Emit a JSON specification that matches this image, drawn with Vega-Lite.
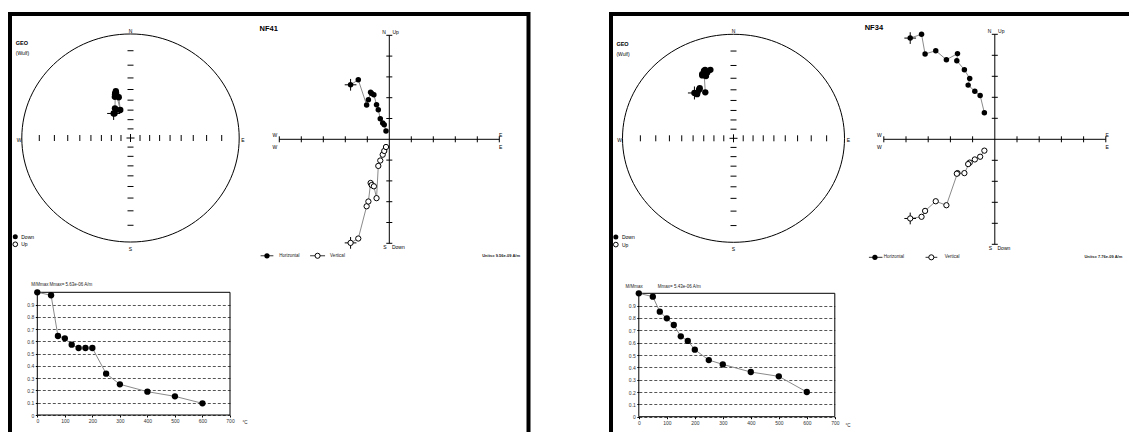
{
"$schema":"https://vega.github.io/schema/vega-lite/v6.json",
"padding":{"left":8,"top":12,"right":-7.5,"bottom":-24},
"background":"white",
"bounds":"flush",
"spacing":82,
"config":{"view":{"stroke":"black","strokeWidth":4},"font":"Liberation Sans"},
"datasets":{
"st":[{"v":-0.8391},{"v":-0.7002},{"v":-0.5774},{"v":-0.4663},{"v":-0.364},{"v":-0.2679},{"v":-0.1763},{"v":-0.0875},{"v":0.0875},{"v":0.1763},{"v":0.2679},{"v":0.364},{"v":0.4663},{"v":0.5774},{"v":0.7002},{"v":0.8391}],
"zt":[{"v":-5},{"v":-4},{"v":-3},{"v":-2},{"v":-1},{"v":1},{"v":2},{"v":3},{"v":4},{"v":5}],
"sl":[{"x":0,"y":1.03,"t":"N"},{"x":0,"y":-1.065,"t":"S"},{"x":-1.025,"y":-0.02,"t":"W"},{"x":1.035,"y":-0.02,"t":"E"}],
"sl2":[{"x":-1.055,"y":0.815,"t":"(Wulf)"},{"x":-1.005,"y":-0.95,"t":"Down"},{"x":-1.005,"y":-1.022,"t":"Up"}],
"zl":[{"x":-0.24,"y":5.14,"t":"N"},{"x":0.29,"y":5.14,"t":"Up"},{"x":-0.2,"y":-5.17,"t":"S"},{"x":0.41,"y":-5.17,"t":"Down"},{"x":-5.2,"y":0.2,"t":"W"},{"x":-5.2,"y":-0.36,"t":"W"},{"x":5.06,"y":0.2,"t":"E"},{"x":5.06,"y":-0.36,"t":"E"}],
"s41":[{"i":1,"x":-0.155,"y":0.236},{"i":2,"x":-0.134,"y":0.272},{"i":3,"x":-0.147,"y":0.236},{"i":4,"x":-0.143,"y":0.285},{"i":5,"x":-0.14,"y":0.427},{"i":6,"x":-0.128,"y":0.407},{"i":7,"x":-0.108,"y":0.392},{"i":8,"x":-0.094,"y":0.269},{"i":9,"x":-0.133,"y":0.436},{"i":10,"x":-0.144,"y":0.396},{"i":11,"x":-0.142,"y":0.42},{"i":12,"x":-0.135,"y":0.45},{"i":13,"x":-0.14,"y":0.428}],
"s34":[{"i":1,"x":-0.352,"y":0.436},{"i":2,"x":-0.31,"y":0.467},{"i":3,"x":-0.328,"y":0.424},{"i":4,"x":-0.304,"y":0.482},{"i":5,"x":-0.254,"y":0.442},{"i":6,"x":-0.266,"y":0.647},{"i":7,"x":-0.282,"y":0.616},{"i":8,"x":-0.248,"y":0.598},{"i":9,"x":-0.256,"y":0.657},{"i":10,"x":-0.281,"y":0.605},{"i":11,"x":-0.25,"y":0.636},{"i":12,"x":-0.208,"y":0.658},{"i":13,"x":-0.236,"y":0.632}],
"z41":[{"i":1,"e":-1.76,"n":2.62,"u":-4.98},{"i":2,"e":-1.41,"n":2.86,"u":-4.77},{"i":3,"e":-1.03,"n":1.65,"u":-3.22},{"i":4,"e":-0.95,"n":1.9,"u":-2.99},{"i":5,"e":-0.85,"n":2.26,"u":-2.1},{"i":6,"e":-0.8,"n":2.2,"u":-2.2},{"i":7,"e":-0.7,"n":2.14,"u":-2.26},{"i":8,"e":-0.58,"n":1.66,"u":-2.83},{"i":9,"e":-0.5,"n":1.42,"u":-1.28},{"i":10,"e":-0.41,"n":0.99,"u":-1.02},{"i":11,"e":-0.3,"n":0.78,"u":-0.74},{"i":12,"e":-0.23,"n":0.7,"u":-0.56},{"i":13,"e":-0.15,"n":0.4,"u":-0.37}],
"z34":[{"i":1,"e":-3.81,"n":4.82,"u":-3.77},{"i":2,"e":-3.3,"n":5.0,"u":-3.69},{"i":3,"e":-3.14,"n":4.06,"u":-3.41},{"i":4,"e":-2.66,"n":4.22,"u":-2.95},{"i":5,"e":-2.18,"n":3.79,"u":-3.14},{"i":6,"e":-1.68,"n":4.08,"u":-1.61},{"i":7,"e":-1.71,"n":3.74,"u":-1.64},{"i":8,"e":-1.37,"n":3.31,"u":-1.61},{"i":9,"e":-1.13,"n":2.9,"u":-1.11},{"i":10,"e":-1.2,"n":2.58,"u":-1.18},{"i":11,"e":-0.9,"n":2.29,"u":-0.96},{"i":12,"e":-0.66,"n":2.09,"u":-0.83},{"i":13,"e":-0.47,"n":1.26,"u":-0.54}],
"d41":[{"t":0,"m":1},{"t":50,"m":0.976},{"t":75,"m":0.644},{"t":100,"m":0.625},{"t":125,"m":0.573},{"t":150,"m":0.546},{"t":175,"m":0.546},{"t":200,"m":0.546},{"t":250,"m":0.337},{"t":300,"m":0.25},{"t":400,"m":0.19},{"t":500,"m":0.152},{"t":600,"m":0.095}],
"d34":[{"t":0,"m":1},{"t":50,"m":0.973},{"t":75,"m":0.851},{"t":100,"m":0.797},{"t":125,"m":0.743},{"t":150,"m":0.651},{"t":175,"m":0.614},{"t":200,"m":0.543},{"t":250,"m":0.459},{"t":300,"m":0.424},{"t":400,"m":0.362},{"t":500,"m":0.327},{"t":600,"m":0.2}],
"zg41":[{"a":-5.85,"b":-5.27,"c":-5.56,"y":-5.6,"k":"H","t":"Horizontal","tx":-5.0},{"a":-3.6,"b":-2.92,"c":-3.26,"y":-5.6,"k":"V","t":"Vertical","tx":-2.69}],
"zg34":[{"a":-5.67,"b":-5.06,"c":-5.4,"y":-5.62,"k":"H","t":"Horizontal","tx":-5.0},{"a":-3.12,"b":-2.59,"c":-2.86,"y":-5.62,"k":"V","t":"Vertical","tx":-2.26}],
"dt41":[{"x":-22,"y":1.062,"t":"M/Mmax"},{"x":44,"y":1.062,"t":"Mmax= 5.63e-06 A/m"},{"x":745,"y":-0.068,"t":"°C"}],
"dt34":[{"x":-47.5,"y":1.053,"t":"M/Mmax"},{"x":68,"y":1.053,"t":"Mmax= 5.43e-06 A/m"},{"x":738,"y":-0.073,"t":"°C"}]
},
"hconcat":[
{"width":518.5,"height":440,"resolve":{"scale":{"x":"independent","y":"independent"}},"layer":[
{"data":{"values":[{"x":0,"y":0}]},"mark":{"type":"point","shape":"M-1,0C-1,-0.5285,-0.5523,-0.957,0,-0.957C0.5523,-0.957,1,-0.5285,1,0C1,0.5285,0.5523,0.957,0,0.957C-0.5523,0.957,-1,0.5285,-1,0Z","size":47263,"filled":false,"color":"black","strokeWidth":1,"opacity":1},"encoding":{"x":{"field":"x","type":"quantitative","scale":{"domain":[-1,1],"range":[11.8,229.2],"nice":false,"zero":false},"axis":null},"y":{"field":"y","type":"quantitative","scale":{"domain":[-1,1],"range":[228,20],"nice":false,"zero":false},"axis":null}}},
{"data":{"name":"st"},"mark":{"type":"point","shape":"M0,-1L0,1","size":36,"filled":false,"color":"black","strokeWidth":1,"opacity":1},"encoding":{"x":{"field":"v","type":"quantitative","scale":{"domain":[-1,1],"range":[11.8,229.2],"nice":false,"zero":false},"axis":null},"y":{"datum":0,"type":"quantitative","scale":{"domain":[-1,1],"range":[228,20],"nice":false,"zero":false},"axis":null}}},
{"data":{"name":"st"},"mark":{"type":"point","shape":"M-1,0L1,0","size":36,"filled":false,"color":"black","strokeWidth":1,"opacity":1},"encoding":{"x":{"datum":0,"type":"quantitative","scale":{"domain":[-1,1],"range":[11.8,229.2],"nice":false,"zero":false},"axis":null},"y":{"field":"v","type":"quantitative","scale":{"domain":[-1,1],"range":[228,20],"nice":false,"zero":false},"axis":null}}},
{"data":{"values":[{"x":0,"y":0}]},"mark":{"type":"point","shape":"M-1,0L1,0M0,-1L0,1","size":64,"filled":false,"color":"black","strokeWidth":1,"opacity":1},"encoding":{"x":{"field":"x","type":"quantitative","scale":{"domain":[-1,1],"range":[11.8,229.2],"nice":false,"zero":false},"axis":null},"y":{"field":"y","type":"quantitative","scale":{"domain":[-1,1],"range":[228,20],"nice":false,"zero":false},"axis":null}}},
{"data":{"name":"sl"},"mark":{"type":"text","fontSize":5,"align":"center","baseline":"middle","color":"black"},"encoding":{"x":{"field":"x","type":"quantitative","scale":{"domain":[-1,1],"range":[11.8,229.2],"nice":false,"zero":false},"axis":null},"y":{"field":"y","type":"quantitative","scale":{"domain":[-1,1],"range":[228,20],"nice":false,"zero":false},"axis":null},"text":{"field":"t","type":"nominal"}}},
{"data":{"name":"sl2"},"mark":{"type":"text","fontSize":5,"align":"left","baseline":"middle","color":"black"},"encoding":{"x":{"field":"x","type":"quantitative","scale":{"domain":[-1,1],"range":[11.8,229.2],"nice":false,"zero":false},"axis":null},"y":{"field":"y","type":"quantitative","scale":{"domain":[-1,1],"range":[228,20],"nice":false,"zero":false},"axis":null},"text":{"field":"t","type":"nominal"}}},
{"data":{"values":[{"x":-1.055,"y":0.91,"t":"GEO"}]},"mark":{"type":"text","fontSize":5.5,"fontWeight":"bold","align":"left","baseline":"middle","color":"black"},"encoding":{"x":{"field":"x","type":"quantitative","scale":{"domain":[-1,1],"range":[11.8,229.2],"nice":false,"zero":false},"axis":null},"y":{"field":"y","type":"quantitative","scale":{"domain":[-1,1],"range":[228,20],"nice":false,"zero":false},"axis":null},"text":{"field":"t","type":"nominal"}}},
{"data":{"values":[{"x":-1.06,"y":-0.95}]},"mark":{"type":"point","shape":"circle","size":25,"filled":true,"color":"black","opacity":1},"encoding":{"x":{"field":"x","type":"quantitative","scale":{"domain":[-1,1],"range":[11.8,229.2],"nice":false,"zero":false},"axis":null},"y":{"field":"y","type":"quantitative","scale":{"domain":[-1,1],"range":[228,20],"nice":false,"zero":false},"axis":null}}},
{"data":{"values":[{"x":-1.06,"y":-1.022}]},"mark":{"type":"point","shape":"circle","size":22,"filled":true,"fill":"white","stroke":"black","strokeWidth":1,"opacity":1},"encoding":{"x":{"field":"x","type":"quantitative","scale":{"domain":[-1,1],"range":[11.8,229.2],"nice":false,"zero":false},"axis":null},"y":{"field":"y","type":"quantitative","scale":{"domain":[-1,1],"range":[228,20],"nice":false,"zero":false},"axis":null}}},
{"data":{"name":"s41"},"mark":{"type":"line","color":"#8a8a8a","strokeWidth":1},"encoding":{"x":{"field":"x","type":"quantitative","scale":{"domain":[-1,1],"range":[11.8,229.2],"nice":false,"zero":false},"axis":null},"y":{"field":"y","type":"quantitative","scale":{"domain":[-1,1],"range":[228,20],"nice":false,"zero":false},"axis":null},"order":{"field":"i","type":"quantitative"}}},
{"data":{"name":"s41"},"transform":[{"filter":"datum.i==1"}],"mark":{"type":"point","shape":"M-1,0L1,0M0,-1L0,1","size":169,"filled":false,"color":"black","strokeWidth":1,"opacity":1},"encoding":{"x":{"field":"x","type":"quantitative","scale":{"domain":[-1,1],"range":[11.8,229.2],"nice":false,"zero":false},"axis":null},"y":{"field":"y","type":"quantitative","scale":{"domain":[-1,1],"range":[228,20],"nice":false,"zero":false},"axis":null}}},
{"data":{"name":"s41"},"mark":{"type":"point","shape":"circle","size":40,"filled":true,"color":"black","opacity":1},"encoding":{"x":{"field":"x","type":"quantitative","scale":{"domain":[-1,1],"range":[11.8,229.2],"nice":false,"zero":false},"axis":null},"y":{"field":"y","type":"quantitative","scale":{"domain":[-1,1],"range":[228,20],"nice":false,"zero":false},"axis":null}}},

{"data":{"values":[{"a":-5,"b":5}]},"mark":{"type":"rule","color":"black","strokeWidth":1},"encoding":{"x":{"field":"a","type":"quantitative","scale":{"domain":[-5,5],"range":[269.3,489.3],"nice":false,"zero":false},"axis":null},"x2":{"field":"b"},"y":{"datum":0,"type":"quantitative","scale":{"domain":[-5,5],"range":[229.3,21.3],"nice":false,"zero":false},"axis":null}}},
{"data":{"values":[{"a":-5,"b":5}]},"mark":{"type":"rule","color":"black","strokeWidth":1},"encoding":{"x":{"datum":0,"type":"quantitative","scale":{"domain":[-5,5],"range":[269.3,489.3],"nice":false,"zero":false},"axis":null},"y":{"field":"a","type":"quantitative","scale":{"domain":[-5,5],"range":[229.3,21.3],"nice":false,"zero":false},"axis":null},"y2":{"field":"b"}}},
{"data":{"name":"zt"},"mark":{"type":"point","shape":"M0,-1L0,1","size":36,"filled":false,"color":"black","strokeWidth":1,"opacity":1},"encoding":{"x":{"field":"v","type":"quantitative","scale":{"domain":[-5,5],"range":[269.3,489.3],"nice":false,"zero":false},"axis":null},"y":{"datum":0,"type":"quantitative","scale":{"domain":[-5,5],"range":[229.3,21.3],"nice":false,"zero":false},"axis":null}}},
{"data":{"name":"zt"},"mark":{"type":"point","shape":"M-1,0L1,0","size":36,"filled":false,"color":"black","strokeWidth":1,"opacity":1},"encoding":{"x":{"datum":0,"type":"quantitative","scale":{"domain":[-5,5],"range":[269.3,489.3],"nice":false,"zero":false},"axis":null},"y":{"field":"v","type":"quantitative","scale":{"domain":[-5,5],"range":[229.3,21.3],"nice":false,"zero":false},"axis":null}}},
{"data":{"name":"zl"},"mark":{"type":"text","fontSize":5,"align":"center","baseline":"middle","color":"black"},"encoding":{"x":{"field":"x","type":"quantitative","scale":{"domain":[-5,5],"range":[269.3,489.3],"nice":false,"zero":false},"axis":null},"y":{"field":"y","type":"quantitative","scale":{"domain":[-5,5],"range":[229.3,21.3],"nice":false,"zero":false},"axis":null},"text":{"field":"t","type":"nominal"}}},
{"data":{"values":[{"x":-5.9,"y":5.29,"t":"NF41"}]},"mark":{"type":"text","fontSize":7.5,"fontWeight":"bold","align":"left","baseline":"middle","color":"black"},"encoding":{"x":{"field":"x","type":"quantitative","scale":{"domain":[-5,5],"range":[269.3,489.3],"nice":false,"zero":false},"axis":null},"y":{"field":"y","type":"quantitative","scale":{"domain":[-5,5],"range":[229.3,21.3],"nice":false,"zero":false},"axis":null},"text":{"field":"t","type":"nominal"}}},
{"data":{"name":"z41"},"mark":{"type":"line","color":"#8a8a8a","strokeWidth":1},"encoding":{"x":{"field":"e","type":"quantitative","scale":{"domain":[-5,5],"range":[269.3,489.3],"nice":false,"zero":false},"axis":null},"y":{"field":"n","type":"quantitative","scale":{"domain":[-5,5],"range":[229.3,21.3],"nice":false,"zero":false},"axis":null},"order":{"field":"i","type":"quantitative"}}},
{"data":{"name":"z41"},"mark":{"type":"line","color":"#8a8a8a","strokeWidth":1},"encoding":{"x":{"field":"e","type":"quantitative","scale":{"domain":[-5,5],"range":[269.3,489.3],"nice":false,"zero":false},"axis":null},"y":{"field":"u","type":"quantitative","scale":{"domain":[-5,5],"range":[229.3,21.3],"nice":false,"zero":false},"axis":null},"order":{"field":"i","type":"quantitative"}}},
{"data":{"name":"z41"},"transform":[{"filter":"datum.i==1"}],"mark":{"type":"point","shape":"M-1,0L1,0M0,-1L0,1","size":137,"filled":false,"color":"black","strokeWidth":1,"opacity":1},"encoding":{"x":{"field":"e","type":"quantitative","scale":{"domain":[-5,5],"range":[269.3,489.3],"nice":false,"zero":false},"axis":null},"y":{"field":"n","type":"quantitative","scale":{"domain":[-5,5],"range":[229.3,21.3],"nice":false,"zero":false},"axis":null}}},
{"data":{"name":"z41"},"transform":[{"filter":"datum.i==1"}],"mark":{"type":"point","shape":"M-1,0L1,0M0,-1L0,1","size":137,"filled":false,"color":"black","strokeWidth":1,"opacity":1},"encoding":{"x":{"field":"e","type":"quantitative","scale":{"domain":[-5,5],"range":[269.3,489.3],"nice":false,"zero":false},"axis":null},"y":{"field":"u","type":"quantitative","scale":{"domain":[-5,5],"range":[229.3,21.3],"nice":false,"zero":false},"axis":null}}},
{"data":{"name":"z41"},"mark":{"type":"point","shape":"circle","size":30,"filled":true,"color":"black","opacity":1},"encoding":{"x":{"field":"e","type":"quantitative","scale":{"domain":[-5,5],"range":[269.3,489.3],"nice":false,"zero":false},"axis":null},"y":{"field":"n","type":"quantitative","scale":{"domain":[-5,5],"range":[229.3,21.3],"nice":false,"zero":false},"axis":null}}},
{"data":{"name":"z41"},"mark":{"type":"point","shape":"circle","size":28,"filled":true,"fill":"white","stroke":"black","strokeWidth":1,"opacity":1},"encoding":{"x":{"field":"e","type":"quantitative","scale":{"domain":[-5,5],"range":[269.3,489.3],"nice":false,"zero":false},"axis":null},"y":{"field":"u","type":"quantitative","scale":{"domain":[-5,5],"range":[229.3,21.3],"nice":false,"zero":false},"axis":null}}},
{"data":{"name":"zg41"},"mark":{"type":"rule","color":"#333","strokeWidth":1},"encoding":{"x":{"field":"a","type":"quantitative","scale":{"domain":[-5,5],"range":[269.3,489.3],"nice":false,"zero":false},"axis":null},"x2":{"field":"b"},"y":{"field":"y","type":"quantitative","scale":{"domain":[-5,5],"range":[229.3,21.3],"nice":false,"zero":false},"axis":null}}},
{"data":{"name":"zg41"},"transform":[{"filter":"datum.k=='H'"}],"mark":{"type":"point","shape":"circle","size":28,"filled":true,"color":"black","opacity":1},"encoding":{"x":{"field":"c","type":"quantitative","scale":{"domain":[-5,5],"range":[269.3,489.3],"nice":false,"zero":false},"axis":null},"y":{"field":"y","type":"quantitative","scale":{"domain":[-5,5],"range":[229.3,21.3],"nice":false,"zero":false},"axis":null}}},
{"data":{"name":"zg41"},"transform":[{"filter":"datum.k=='V'"}],"mark":{"type":"point","shape":"circle","size":26,"filled":true,"fill":"white","stroke":"black","strokeWidth":1,"opacity":1},"encoding":{"x":{"field":"c","type":"quantitative","scale":{"domain":[-5,5],"range":[269.3,489.3],"nice":false,"zero":false},"axis":null},"y":{"field":"y","type":"quantitative","scale":{"domain":[-5,5],"range":[229.3,21.3],"nice":false,"zero":false},"axis":null}}},
{"data":{"name":"zg41"},"mark":{"type":"text","fontSize":4.5,"align":"left","baseline":"middle","color":"#222"},"encoding":{"x":{"field":"tx","type":"quantitative","scale":{"domain":[-5,5],"range":[269.3,489.3],"nice":false,"zero":false},"axis":null},"y":{"field":"y","type":"quantitative","scale":{"domain":[-5,5],"range":[229.3,21.3],"nice":false,"zero":false},"axis":null},"text":{"field":"t","type":"nominal"}}},
{"data":{"values":[{"x":5.94,"y":-5.6,"t":"Units= 9.56e-09 A/m"}]},"mark":{"type":"text","fontSize":4,"fontWeight":"bold","align":"right","baseline":"middle","color":"#222"},"encoding":{"x":{"field":"x","type":"quantitative","scale":{"domain":[-5,5],"range":[269.3,489.3],"nice":false,"zero":false},"axis":null},"y":{"field":"y","type":"quantitative","scale":{"domain":[-5,5],"range":[229.3,21.3],"nice":false,"zero":false},"axis":null},"text":{"field":"t","type":"nominal"}}},

{"data":{"values":[{"a":0,"b":700,"c":0,"d":1}]},"mark":{"type":"rect","filled":false,"color":"black","strokeWidth":1},"encoding":{"x":{"field":"a","type":"quantitative","scale":{"domain":[0,700],"range":[27.3,220],"nice":false,"zero":false},"axis":null},"x2":{"field":"b"},"y":{"field":"c","type":"quantitative","scale":{"domain":[0,1],"range":[401,278.3],"nice":false,"zero":false},"axis":null},"y2":{"field":"d"}}},
{"data":{"name":"d41"},"mark":{"type":"line","color":"#8a8a8a","strokeWidth":1},"encoding":{"x":{"field":"t","type":"quantitative","scale":{"domain":[0,700],"range":[27.3,220],"nice":false,"zero":false},"axis":{"orient":"bottom","offset":-39,"values":[0,100,200,300,400,500,600,700],"domain":false,"grid":false,"tickSize":2,"tickColor":"black","labelFontSize":5,"labelColor":"#333","labelPadding":1.5,"labelFlush":false,"labelOverlap":false,"title":null}},"y":{"field":"m","type":"quantitative","scale":{"domain":[0,1],"range":[401,278.3],"nice":false,"zero":false},"axis":{"orient":"left","offset":-27.3,"values":[0,0.1,0.2,0.3,0.4,0.5,0.6,0.7,0.8,0.9],"format":"~g","domain":false,"grid":true,"gridDash":[3,2],"gridColor":"#555","gridWidth":1,"tickSize":2,"tickColor":"black","labelFontSize":5,"labelColor":"#333","labelPadding":1.5,"labelFlush":false,"labelOverlap":false,"title":null}},"order":{"field":"t","type":"quantitative"}}},
{"data":{"name":"d41"},"mark":{"type":"point","shape":"circle","size":40,"filled":true,"color":"black","opacity":1},"encoding":{"x":{"field":"t","type":"quantitative","scale":{"domain":[0,700],"range":[27.3,220],"nice":false,"zero":false},"axis":null},"y":{"field":"m","type":"quantitative","scale":{"domain":[0,1],"range":[401,278.3],"nice":false,"zero":false},"axis":null}}},
{"data":{"name":"dt41"},"mark":{"type":"text","fontSize":4.5,"align":"left","baseline":"middle","color":"#222"},"encoding":{"x":{"field":"x","type":"quantitative","scale":{"domain":[0,700],"range":[27.3,220],"nice":false,"zero":false},"axis":null},"y":{"field":"y","type":"quantitative","scale":{"domain":[0,1],"range":[401,278.3],"nice":false,"zero":false},"axis":null},"text":{"field":"t","type":"nominal"}}}
]},

{"width":524,"height":440,"resolve":{"scale":{"x":"independent","y":"independent"}},"layer":[
{"data":{"values":[{"x":0,"y":0}]},"mark":{"type":"point","shape":"M-1,0C-1,-0.5175,-0.5523,-0.937,0,-0.937C0.5523,-0.937,1,-0.5175,1,0C1,0.5175,0.5523,0.937,0,0.937C-0.5523,0.937,-1,0.5175,-1,0Z","size":49284,"filled":false,"color":"black","strokeWidth":1,"opacity":1},"encoding":{"x":{"field":"x","type":"quantitative","scale":{"domain":[-1,1],"range":[11.5,233.5],"nice":false,"zero":false},"axis":null},"y":{"field":"y","type":"quantitative","scale":{"domain":[-1,1],"range":[228.3,20.3],"nice":false,"zero":false},"axis":null}}},
{"data":{"name":"st"},"mark":{"type":"point","shape":"M0,-1L0,1","size":36,"filled":false,"color":"black","strokeWidth":1,"opacity":1},"encoding":{"x":{"field":"v","type":"quantitative","scale":{"domain":[-1,1],"range":[11.5,233.5],"nice":false,"zero":false},"axis":null},"y":{"datum":0,"type":"quantitative","scale":{"domain":[-1,1],"range":[228.3,20.3],"nice":false,"zero":false},"axis":null}}},
{"data":{"name":"st"},"mark":{"type":"point","shape":"M-1,0L1,0","size":36,"filled":false,"color":"black","strokeWidth":1,"opacity":1},"encoding":{"x":{"datum":0,"type":"quantitative","scale":{"domain":[-1,1],"range":[11.5,233.5],"nice":false,"zero":false},"axis":null},"y":{"field":"v","type":"quantitative","scale":{"domain":[-1,1],"range":[228.3,20.3],"nice":false,"zero":false},"axis":null}}},
{"data":{"values":[{"x":0,"y":0}]},"mark":{"type":"point","shape":"M-1,0L1,0M0,-1L0,1","size":64,"filled":false,"color":"black","strokeWidth":1,"opacity":1},"encoding":{"x":{"field":"x","type":"quantitative","scale":{"domain":[-1,1],"range":[11.5,233.5],"nice":false,"zero":false},"axis":null},"y":{"field":"y","type":"quantitative","scale":{"domain":[-1,1],"range":[228.3,20.3],"nice":false,"zero":false},"axis":null}}},
{"data":{"name":"sl"},"mark":{"type":"text","fontSize":5,"align":"center","baseline":"middle","color":"black"},"encoding":{"x":{"field":"x","type":"quantitative","scale":{"domain":[-1,1],"range":[11.5,233.5],"nice":false,"zero":false},"axis":null},"y":{"field":"y","type":"quantitative","scale":{"domain":[-1,1],"range":[228.3,20.3],"nice":false,"zero":false},"axis":null},"text":{"field":"t","type":"nominal"}}},
{"data":{"name":"sl2"},"mark":{"type":"text","fontSize":5,"align":"left","baseline":"middle","color":"black"},"encoding":{"x":{"field":"x","type":"quantitative","scale":{"domain":[-1,1],"range":[11.5,233.5],"nice":false,"zero":false},"axis":null},"y":{"field":"y","type":"quantitative","scale":{"domain":[-1,1],"range":[228.3,20.3],"nice":false,"zero":false},"axis":null},"text":{"field":"t","type":"nominal"}}},
{"data":{"values":[{"x":-1.055,"y":0.91,"t":"GEO"}]},"mark":{"type":"text","fontSize":5.5,"fontWeight":"bold","align":"left","baseline":"middle","color":"black"},"encoding":{"x":{"field":"x","type":"quantitative","scale":{"domain":[-1,1],"range":[11.5,233.5],"nice":false,"zero":false},"axis":null},"y":{"field":"y","type":"quantitative","scale":{"domain":[-1,1],"range":[228.3,20.3],"nice":false,"zero":false},"axis":null},"text":{"field":"t","type":"nominal"}}},
{"data":{"values":[{"x":-1.06,"y":-0.95}]},"mark":{"type":"point","shape":"circle","size":25,"filled":true,"color":"black","opacity":1},"encoding":{"x":{"field":"x","type":"quantitative","scale":{"domain":[-1,1],"range":[11.5,233.5],"nice":false,"zero":false},"axis":null},"y":{"field":"y","type":"quantitative","scale":{"domain":[-1,1],"range":[228.3,20.3],"nice":false,"zero":false},"axis":null}}},
{"data":{"values":[{"x":-1.06,"y":-1.022}]},"mark":{"type":"point","shape":"circle","size":22,"filled":true,"fill":"white","stroke":"black","strokeWidth":1,"opacity":1},"encoding":{"x":{"field":"x","type":"quantitative","scale":{"domain":[-1,1],"range":[11.5,233.5],"nice":false,"zero":false},"axis":null},"y":{"field":"y","type":"quantitative","scale":{"domain":[-1,1],"range":[228.3,20.3],"nice":false,"zero":false},"axis":null}}},
{"data":{"name":"s34"},"mark":{"type":"line","color":"#8a8a8a","strokeWidth":1},"encoding":{"x":{"field":"x","type":"quantitative","scale":{"domain":[-1,1],"range":[11.5,233.5],"nice":false,"zero":false},"axis":null},"y":{"field":"y","type":"quantitative","scale":{"domain":[-1,1],"range":[228.3,20.3],"nice":false,"zero":false},"axis":null},"order":{"field":"i","type":"quantitative"}}},
{"data":{"name":"s34"},"transform":[{"filter":"datum.i==1"}],"mark":{"type":"point","shape":"M-1,0L1,0M0,-1L0,1","size":169,"filled":false,"color":"black","strokeWidth":1,"opacity":1},"encoding":{"x":{"field":"x","type":"quantitative","scale":{"domain":[-1,1],"range":[11.5,233.5],"nice":false,"zero":false},"axis":null},"y":{"field":"y","type":"quantitative","scale":{"domain":[-1,1],"range":[228.3,20.3],"nice":false,"zero":false},"axis":null}}},
{"data":{"name":"s34"},"mark":{"type":"point","shape":"circle","size":40,"filled":true,"color":"black","opacity":1},"encoding":{"x":{"field":"x","type":"quantitative","scale":{"domain":[-1,1],"range":[11.5,233.5],"nice":false,"zero":false},"axis":null},"y":{"field":"y","type":"quantitative","scale":{"domain":[-1,1],"range":[228.3,20.3],"nice":false,"zero":false},"axis":null}}},

{"data":{"values":[{"a":-5,"b":5}]},"mark":{"type":"rule","color":"black","strokeWidth":1},"encoding":{"x":{"field":"a","type":"quantitative","scale":{"domain":[-5,5],"range":[272.8,494.8],"nice":false,"zero":false},"axis":null},"x2":{"field":"b"},"y":{"datum":0,"type":"quantitative","scale":{"domain":[-5,5],"range":[230.3,20.3],"nice":false,"zero":false},"axis":null}}},
{"data":{"values":[{"a":-5,"b":5}]},"mark":{"type":"rule","color":"black","strokeWidth":1},"encoding":{"x":{"datum":0,"type":"quantitative","scale":{"domain":[-5,5],"range":[272.8,494.8],"nice":false,"zero":false},"axis":null},"y":{"field":"a","type":"quantitative","scale":{"domain":[-5,5],"range":[230.3,20.3],"nice":false,"zero":false},"axis":null},"y2":{"field":"b"}}},
{"data":{"name":"zt"},"mark":{"type":"point","shape":"M0,-1L0,1","size":36,"filled":false,"color":"black","strokeWidth":1,"opacity":1},"encoding":{"x":{"field":"v","type":"quantitative","scale":{"domain":[-5,5],"range":[272.8,494.8],"nice":false,"zero":false},"axis":null},"y":{"datum":0,"type":"quantitative","scale":{"domain":[-5,5],"range":[230.3,20.3],"nice":false,"zero":false},"axis":null}}},
{"data":{"name":"zt"},"mark":{"type":"point","shape":"M-1,0L1,0","size":36,"filled":false,"color":"black","strokeWidth":1,"opacity":1},"encoding":{"x":{"datum":0,"type":"quantitative","scale":{"domain":[-5,5],"range":[272.8,494.8],"nice":false,"zero":false},"axis":null},"y":{"field":"v","type":"quantitative","scale":{"domain":[-5,5],"range":[230.3,20.3],"nice":false,"zero":false},"axis":null}}},
{"data":{"name":"zl"},"mark":{"type":"text","fontSize":5,"align":"center","baseline":"middle","color":"black"},"encoding":{"x":{"field":"x","type":"quantitative","scale":{"domain":[-5,5],"range":[272.8,494.8],"nice":false,"zero":false},"axis":null},"y":{"field":"y","type":"quantitative","scale":{"domain":[-5,5],"range":[230.3,20.3],"nice":false,"zero":false},"axis":null},"text":{"field":"t","type":"nominal"}}},
{"data":{"values":[{"x":-5.86,"y":5.29,"t":"NF34"}]},"mark":{"type":"text","fontSize":7.5,"fontWeight":"bold","align":"left","baseline":"middle","color":"black"},"encoding":{"x":{"field":"x","type":"quantitative","scale":{"domain":[-5,5],"range":[272.8,494.8],"nice":false,"zero":false},"axis":null},"y":{"field":"y","type":"quantitative","scale":{"domain":[-5,5],"range":[230.3,20.3],"nice":false,"zero":false},"axis":null},"text":{"field":"t","type":"nominal"}}},
{"data":{"name":"z34"},"mark":{"type":"line","color":"#8a8a8a","strokeWidth":1},"encoding":{"x":{"field":"e","type":"quantitative","scale":{"domain":[-5,5],"range":[272.8,494.8],"nice":false,"zero":false},"axis":null},"y":{"field":"n","type":"quantitative","scale":{"domain":[-5,5],"range":[230.3,20.3],"nice":false,"zero":false},"axis":null},"order":{"field":"i","type":"quantitative"}}},
{"data":{"name":"z34"},"mark":{"type":"line","color":"#8a8a8a","strokeWidth":1},"encoding":{"x":{"field":"e","type":"quantitative","scale":{"domain":[-5,5],"range":[272.8,494.8],"nice":false,"zero":false},"axis":null},"y":{"field":"u","type":"quantitative","scale":{"domain":[-5,5],"range":[230.3,20.3],"nice":false,"zero":false},"axis":null},"order":{"field":"i","type":"quantitative"}}},
{"data":{"name":"z34"},"transform":[{"filter":"datum.i==1"}],"mark":{"type":"point","shape":"M-1,0L1,0M0,-1L0,1","size":137,"filled":false,"color":"black","strokeWidth":1,"opacity":1},"encoding":{"x":{"field":"e","type":"quantitative","scale":{"domain":[-5,5],"range":[272.8,494.8],"nice":false,"zero":false},"axis":null},"y":{"field":"n","type":"quantitative","scale":{"domain":[-5,5],"range":[230.3,20.3],"nice":false,"zero":false},"axis":null}}},
{"data":{"name":"z34"},"transform":[{"filter":"datum.i==1"}],"mark":{"type":"point","shape":"M-1,0L1,0M0,-1L0,1","size":137,"filled":false,"color":"black","strokeWidth":1,"opacity":1},"encoding":{"x":{"field":"e","type":"quantitative","scale":{"domain":[-5,5],"range":[272.8,494.8],"nice":false,"zero":false},"axis":null},"y":{"field":"u","type":"quantitative","scale":{"domain":[-5,5],"range":[230.3,20.3],"nice":false,"zero":false},"axis":null}}},
{"data":{"name":"z34"},"mark":{"type":"point","shape":"circle","size":30,"filled":true,"color":"black","opacity":1},"encoding":{"x":{"field":"e","type":"quantitative","scale":{"domain":[-5,5],"range":[272.8,494.8],"nice":false,"zero":false},"axis":null},"y":{"field":"n","type":"quantitative","scale":{"domain":[-5,5],"range":[230.3,20.3],"nice":false,"zero":false},"axis":null}}},
{"data":{"name":"z34"},"mark":{"type":"point","shape":"circle","size":28,"filled":true,"fill":"white","stroke":"black","strokeWidth":1,"opacity":1},"encoding":{"x":{"field":"e","type":"quantitative","scale":{"domain":[-5,5],"range":[272.8,494.8],"nice":false,"zero":false},"axis":null},"y":{"field":"u","type":"quantitative","scale":{"domain":[-5,5],"range":[230.3,20.3],"nice":false,"zero":false},"axis":null}}},
{"data":{"name":"zg34"},"mark":{"type":"rule","color":"#333","strokeWidth":1},"encoding":{"x":{"field":"a","type":"quantitative","scale":{"domain":[-5,5],"range":[272.8,494.8],"nice":false,"zero":false},"axis":null},"x2":{"field":"b"},"y":{"field":"y","type":"quantitative","scale":{"domain":[-5,5],"range":[230.3,20.3],"nice":false,"zero":false},"axis":null}}},
{"data":{"name":"zg34"},"transform":[{"filter":"datum.k=='H'"}],"mark":{"type":"point","shape":"circle","size":28,"filled":true,"color":"black","opacity":1},"encoding":{"x":{"field":"c","type":"quantitative","scale":{"domain":[-5,5],"range":[272.8,494.8],"nice":false,"zero":false},"axis":null},"y":{"field":"y","type":"quantitative","scale":{"domain":[-5,5],"range":[230.3,20.3],"nice":false,"zero":false},"axis":null}}},
{"data":{"name":"zg34"},"transform":[{"filter":"datum.k=='V'"}],"mark":{"type":"point","shape":"circle","size":26,"filled":true,"fill":"white","stroke":"black","strokeWidth":1,"opacity":1},"encoding":{"x":{"field":"c","type":"quantitative","scale":{"domain":[-5,5],"range":[272.8,494.8],"nice":false,"zero":false},"axis":null},"y":{"field":"y","type":"quantitative","scale":{"domain":[-5,5],"range":[230.3,20.3],"nice":false,"zero":false},"axis":null}}},
{"data":{"name":"zg34"},"mark":{"type":"text","fontSize":4.5,"align":"left","baseline":"middle","color":"#222"},"encoding":{"x":{"field":"tx","type":"quantitative","scale":{"domain":[-5,5],"range":[272.8,494.8],"nice":false,"zero":false},"axis":null},"y":{"field":"y","type":"quantitative","scale":{"domain":[-5,5],"range":[230.3,20.3],"nice":false,"zero":false},"axis":null},"text":{"field":"t","type":"nominal"}}},
{"data":{"values":[{"x":5.74,"y":-5.62,"t":"Units= 7.76e-09 A/m"}]},"mark":{"type":"text","fontSize":4,"fontWeight":"bold","align":"right","baseline":"middle","color":"#222"},"encoding":{"x":{"field":"x","type":"quantitative","scale":{"domain":[-5,5],"range":[272.8,494.8],"nice":false,"zero":false},"axis":null},"y":{"field":"y","type":"quantitative","scale":{"domain":[-5,5],"range":[230.3,20.3],"nice":false,"zero":false},"axis":null},"text":{"field":"t","type":"nominal"}}},

{"data":{"values":[{"a":0,"b":700,"c":0,"d":1}]},"mark":{"type":"rect","filled":false,"color":"black","strokeWidth":1},"encoding":{"x":{"field":"a","type":"quantitative","scale":{"domain":[0,700],"range":[27.8,223.8],"nice":false,"zero":false},"axis":null},"x2":{"field":"b"},"y":{"field":"c","type":"quantitative","scale":{"domain":[0,1],"range":[402.7,279.3],"nice":false,"zero":false},"axis":null},"y2":{"field":"d"}}},
{"data":{"name":"d34"},"mark":{"type":"line","color":"#8a8a8a","strokeWidth":1},"encoding":{"x":{"field":"t","type":"quantitative","scale":{"domain":[0,700],"range":[27.8,223.8],"nice":false,"zero":false},"axis":{"orient":"bottom","offset":-37.3,"values":[0,100,200,300,400,500,600,700],"domain":false,"grid":false,"tickSize":2,"tickColor":"black","labelFontSize":5,"labelColor":"#333","labelPadding":1.5,"labelFlush":false,"labelOverlap":false,"title":null}},"y":{"field":"m","type":"quantitative","scale":{"domain":[0,1],"range":[402.7,279.3],"nice":false,"zero":false},"axis":{"orient":"left","offset":-27.8,"values":[0,0.1,0.2,0.3,0.4,0.5,0.6,0.7,0.8,0.9],"format":"~g","domain":false,"grid":true,"gridDash":[3,2],"gridColor":"#555","gridWidth":1,"tickSize":2,"tickColor":"black","labelFontSize":5,"labelColor":"#333","labelPadding":1.5,"labelFlush":false,"labelOverlap":false,"title":null}},"order":{"field":"t","type":"quantitative"}}},
{"data":{"name":"d34"},"mark":{"type":"point","shape":"circle","size":40,"filled":true,"color":"black","opacity":1},"encoding":{"x":{"field":"t","type":"quantitative","scale":{"domain":[0,700],"range":[27.8,223.8],"nice":false,"zero":false},"axis":null},"y":{"field":"m","type":"quantitative","scale":{"domain":[0,1],"range":[402.7,279.3],"nice":false,"zero":false},"axis":null}}},
{"data":{"name":"dt34"},"mark":{"type":"text","fontSize":4.5,"align":"left","baseline":"middle","color":"#222"},"encoding":{"x":{"field":"x","type":"quantitative","scale":{"domain":[0,700],"range":[27.8,223.8],"nice":false,"zero":false},"axis":null},"y":{"field":"y","type":"quantitative","scale":{"domain":[0,1],"range":[402.7,279.3],"nice":false,"zero":false},"axis":null},"text":{"field":"t","type":"nominal"}}}
]}
]
}
